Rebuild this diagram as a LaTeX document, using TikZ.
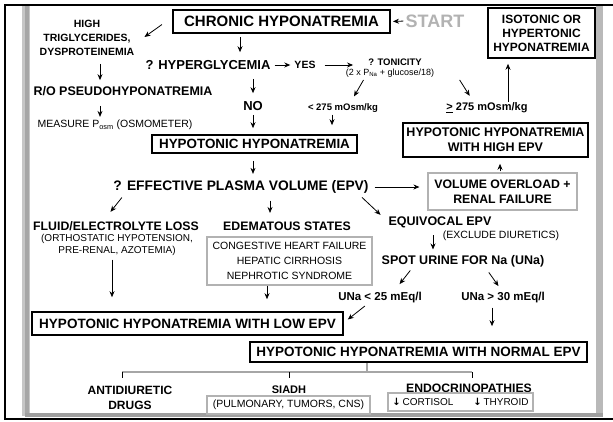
\documentclass[tikz,border=0pt]{standalone}
\usepackage{fontspec}
\setmainfont{Liberation Sans}
\newfontfamily\symfont{DejaVu Sans}
\usetikzlibrary{arrows.meta}
\newcommand\ff[2]{\fontsize{#1}{#2}\selectfont}
\newcommand\dnarr{{\symfont\bfseries\ff{10}{10}↓}}
\tikzset{
  lbl/.style={inner sep=0pt, align=center},
  bx/.style={draw=black, line width=1.6pt, inner sep=0pt, align=center},
  gbx/.style={draw=gray!60, line width=1.1pt, inner sep=0pt, align=center},
  arr/.style={-{Stealth[length=6pt,width=5pt]}, line width=0.8pt},
  tree/.style={line width=1.4pt, draw=gray!70},
  tick/.style={line width=0.9pt}
}
\begin{document}
\begin{tikzpicture}[x=1pt,y=-1pt]
\useasboundingbox (0,0) rectangle (613,421);
% frame
\fill[gray!45] (22,5) rectangle (30,416);
\fill[gray!70] (25,5) rectangle (29,416);
\fill[gray!55] (596,5) rectangle (603,416);
\fill[gray!75] (25,413) rectangle (603,417);
\draw[line width=1.2pt] (613,5) -- (5,5) -- (5,419) -- (613,419);

% nodes
\node[bx, line width=2pt, minimum width=217pt, minimum height=23pt, font=\bfseries\ff{15}{16}] (chronic) at (281.5,21.5) {CHRONIC HYPONATREMIA};
\node[lbl, text=gray!60, font=\bfseries\ff{18}{18}] (start) at (435,21) {START};
\node[bx, minimum width=107pt, minimum height=50pt, font=\bfseries\ff{12}{14}] (iso) at (541.5,33) {ISOTONIC OR\\HYPERTONIC\\HYPONATREMIA};
\node[lbl, font=\bfseries\ff{10.5}{14}] (high) at (87,38) {HIGH\\TRIGLYCERIDES,\\DYSPROTEINEMIA};
\node[lbl, font=\bfseries\ff{12.5}{14}] (rpseudo) at (123,91) {R/O PSEUDOHYPONATREMIA};
\node[lbl, font=\ff{10.5}{12}] (measure) at (115,125) {MEASURE P\textsubscript{osm} (OSMOMETER)};
\node[lbl, font=\bfseries\ff{13}{14}] (hyper) at (208,65) {? HYPERGLYCEMIA};
\node[lbl, font=\bfseries\ff{10.5}{12}] (yes) at (305,65) {YES};
\node[lbl, font=\bfseries\ff{9.5}{11}] (tonic) at (395,62) {? TONICITY};
\node[lbl, font=\ff{9}{10}] (formula) at (390,73) {(2 x P\textsubscript{Na} + glucose/18)};
\node[lbl, font=\bfseries\ff{9.5}{11}] (lt) at (343,108) {< 275 mOsm/kg};
\node[lbl, font=\bfseries\ff{11}{12}] (ge) at (487,108) {\underline{>} 275 mOsm/kg};
\node[lbl, font=\bfseries\ff{13}{14}] (no) at (253,106) {NO};
\node[bx, minimum width=205pt, minimum height=18pt, font=\bfseries\ff{13.4}{14}] (hypo) at (254.5,144) {HYPOTONIC HYPONATREMIA};
\node[bx, minimum width=185pt, minimum height=34pt, font=\bfseries\ff{12.5}{15}] (highepv) at (495.5,140) {HYPOTONIC HYPONATREMIA\\WITH HIGH EPV};
\node[lbl, font=\bfseries\ff{13.8}{14}] (epv) at (241,187) {? EFFECTIVE PLASMA VOLUME (EPV)};
\node[gbx, minimum width=149pt, minimum height=37pt, font=\bfseries\ff{12.3}{15}] (volov) at (502.5,191.5) {VOLUME OVERLOAD +\\RENAL FAILURE};
\node[lbl, font=\bfseries\ff{12.3}{13}] (fluid) at (116,226) {FLUID/ELECTROLYTE LOSS};
\node[lbl, font=\ff{10}{11.5}] (ortho) at (117,245) {(ORTHOSTATIC HYPOTENSION,\\PRE-RENAL, AZOTEMIA)};
\node[lbl, font=\bfseries\ff{12.3}{13}] (edem) at (287,226) {EDEMATOUS STATES};
\node[gbx, minimum width=165pt, minimum height=48pt, font=\ff{10.5}{15}] (cong) at (289.5,261) {CONGESTIVE HEART FAILURE\\HEPATIC CIRRHOSIS\\NEPHROTIC SYNDROME};
\node[lbl, font=\bfseries\ff{12.5}{13}] (equiv) at (440,222) {EQUIVOCAL EPV};
\node[lbl, font=\ff{10.5}{12}] (excl) at (501,236) {(EXCLUDE DIURETICS)};
\node[lbl, font=\bfseries\ff{12.5}{13}] (spot) at (463,261) {SPOT URINE FOR Na (UNa)};
\node[lbl, font=\bfseries\ff{11.5}{12}] (u25) at (380,298) {UNa < 25 mEq/l};
\node[lbl, font=\bfseries\ff{11.5}{12}] (u30) at (503,298) {UNa > 30 mEq/l};
\node[bx, minimum width=311pt, minimum height=23pt, font=\bfseries\ff{13.5}{14}] (low) at (187.5,323.5) {HYPOTONIC HYPONATREMIA WITH LOW EPV};
\node[bx, minimum width=337pt, minimum height=20pt, font=\bfseries\ff{13.5}{14}] (normal) at (418.5,352) {HYPOTONIC HYPONATREMIA WITH NORMAL EPV};
\node[lbl, font=\bfseries\ff{12}{15}] (antid) at (130,397.5) {ANTIDIURETIC\\DRUGS};
\node[lbl, font=\bfseries\ff{11}{12}] (siadh) at (289,390) {SIADH};
\node[gbx, minimum width=163pt, minimum height=18pt, font=\ff{10.5}{12}] (pulm) at (288.5,405) {(PULMONARY, TUMORS, CNS)};
\node[lbl, font=\bfseries\ff{12.2}{13}] (endo) at (469,388) {ENDOCRINOPATHIES};
\node[gbx, minimum width=145pt, minimum height=18pt, font=\ff{10}{12}] (cort) at (460.5,402) {\dnarr\,CORTISOL\qquad\dnarr\,THYROID};

% connectors
\draw[arr, shorten <=2pt, shorten >=2pt] (start.west) -- (chronic.east);
\draw[arr] ([shift={(-10,3)}]chronic.west) -- ([shift={(10,-1)}]high.east);
\draw[arr, shorten <=8pt, shorten >=6pt] (high.south -| 100,0) -- (rpseudo.north -| 100,0);
\draw[arr, shorten <=10pt, shorten >=3pt] (rpseudo.south -| 100,0) -- (measure.north -| 100,0);
\draw[arr, shorten <=3pt, shorten >=8pt] (chronic.south -| 240,0) -- (hyper.north -| 240,0);
\draw[arr, shorten <=4pt, shorten >=4pt] (hyper.east) -- (yes.west);
\draw[arr, shorten <=9pt, shorten >=15pt] (yes.east) -- (yes.east -| tonic.west);
\draw[arr, shorten <=9pt, shorten >=8pt] (hyper.south -| no.north) -- (no.north);
\draw[arr, shorten <=4pt, shorten >=6pt] (no.south) -- (no.south |- hypo.north);
\draw[arr, shorten <=3pt, shorten >=8pt] ([shift={(-25,0)}]formula.south) -- ([shift={(7,0)}]lt.north);
\draw[arr, shorten <=3pt, shorten >=8pt] ([shift={(68,0)}]formula.south) -- ([shift={(-13,0)}]ge.north);
\draw[arr, shorten <=2pt, shorten >=9pt] (lt.south -| 332,0) -- (hypo.north -| 332,0);
\draw[arr, shorten <=1pt, shorten >=5pt] (ge.north -| 508,0) -- (iso.south -| 508,0);
\draw[arr, shorten <=7pt, shorten >=6.5pt] (hypo.south -| 253,0) -- (epv.north -| 253,0);
\draw[arr, shorten <=6pt, shorten >=8pt] (epv.east) -- (epv.east -| volov.west);
\draw[arr, shorten <=1pt, shorten >=6pt] (volov.north -| 500,0) -- (highepv.south -| 500,0);
\draw[arr, shorten <=5pt, shorten >=12pt] ([shift={(-116,0)}]epv.south) -- ([shift={(-13,0)}]fluid.north);
\draw[arr, shorten <=7pt, shorten >=8.5pt] (epv.south -| 270,0) -- (edem.north -| 270,0);
\draw[arr, shorten <=5.5pt, shorten >=2pt] ([shift={(117,0)}]epv.south) -- ([shift={(-58,0)}]equiv.north);
\draw[arr, shorten <=7.5pt, shorten >=5.5pt] (equiv.south -| 433,0) -- (spot.north -| 433,0);
\draw[arr, shorten <=4.4pt, shorten >=10.6pt] ([shift={(-50,0)}]spot.south) -- ([shift={(13,0)}]u25.north);
\draw[arr, shorten <=6.6pt, shorten >=7.8pt] ([shift={(22,0)}]spot.south) -- (u30.north);
\draw[arr, shorten <=4pt, shorten >=14pt] (ortho.south -| 112,0) -- (low.north -| 112,0);
\draw[arr, shorten >=12pt] (cong.south -| 267,0) -- (low.north -| 267,0);
\draw[arr, shorten <=4pt] ([shift={(-12,0)}]u25.south) -- ([shift={(4,-4)}]low.east);
\draw[arr, shorten <=4pt, shorten >=15pt] (u30.south -| 492,0) -- (normal.north -| 492,0);
% tree
\coordinate (tj) at (367,372);
\coordinate (tl) at (122,372);
\coordinate (tr) at (472,372);
\draw[tree] (normal.south -| tj) -- (tj);
\draw[tree] (tl) -- (tr);
\draw[tick] (tl) -- ++(0,6);
\draw[tick] (tl -| siadh) -- ++(0,6);
\draw[tick] (tr) -- ++(0,6);
\end{tikzpicture}
\end{document}
